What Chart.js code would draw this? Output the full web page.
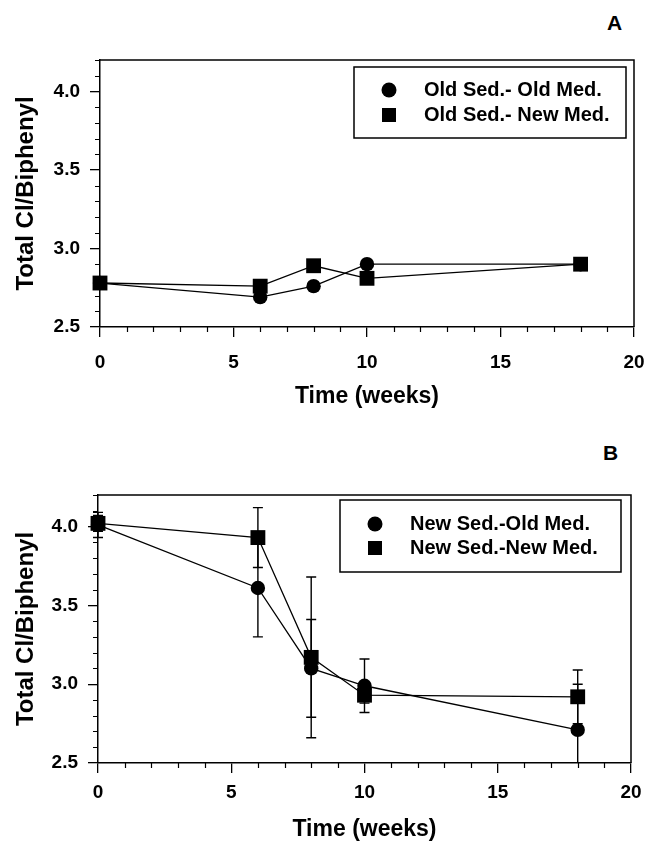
<!DOCTYPE html>
<html>
<head>
<meta charset="utf-8">
<script src="https://cdn.jsdelivr.net/npm/chart.js@4.4.0/dist/chart.umd.min.js"></script>
<style>
  body { margin: 0; background: #fff; }
  #wrap { position: relative; width: 645px; height: 844px; overflow: hidden; }
  canvas { position: absolute; left: 0; }
  .panel { position: absolute; font: bold 21px "Liberation Sans", Arial, sans-serif; line-height: 21px; color: #000; }
</style>
</head>
<body>
<div id="wrap">
  <div class="panel" style="left:607px; top:12px;">A</div>
  <canvas id="chartA" width="645" height="420" style="top:0;"></canvas>
  <div class="panel" style="left:603px; top:442px;">B</div>
  <canvas id="chartB" width="645" height="424" style="top:420px;"></canvas>
</div>
<script>
// data
var weeks = [0, 6, 8, 10, 18];
var oldSedOldMed = [2.78, 2.69, 2.76, 2.90, 2.90];
var oldSedNewMed = [2.78, 2.76, 2.89, 2.81, 2.90];
var newSedOldMed = [4.01, 3.61, 3.10, 2.99, 2.71];
var newSedOldMedErr = [0.08, 0.31, 0.31, 0.17, 0.29];
var newSedNewMed = [4.02, 3.93, 3.17, 2.93, 2.92];
var newSedNewMedErr = [0.05, 0.19, 0.51, 0.05, 0.17];
var yMin = 2.5, yMax = 4.2, yStep = 0.5, yMinor = 0.1;
var xMin = 0, xMax = 20, xStep = 5, xMinor = 1;

var FONT = '"Liberation Sans", Arial, sans-serif';

function points(ys) {
  return weeks.map(function (w, i) { return { x: w, y: ys[i] }; });
}

// error bars, drawn through the chart's own scales
var errorBars = {
  id: 'errorBars',
  beforeDatasetsDraw: function (chart) {
    var ctx = chart.ctx, a = chart.chartArea;
    var xs = chart.scales.x, ys = chart.scales.y;
    ctx.save();
    ctx.beginPath();
    ctx.rect(a.left - 10, a.top, a.right - a.left + 20, a.bottom - a.top);
    ctx.clip();
    ctx.strokeStyle = '#000';
    ctx.lineWidth = 1.4;
    chart.data.datasets.forEach(function (ds) {
      if (!ds.errors) return;
      ds.data.forEach(function (p, i) {
        var px = xs.getPixelForValue(p.x);
        var top = ys.getPixelForValue(p.y + ds.errors[i]);
        var bot = ys.getPixelForValue(p.y - ds.errors[i]);
        ctx.beginPath();
        ctx.moveTo(px, top); ctx.lineTo(px, bot);
        ctx.moveTo(px - 5, top); ctx.lineTo(px + 5, top);
        ctx.moveTo(px - 5, bot); ctx.lineTo(px + 5, bot);
        ctx.stroke();
      });
    });
    ctx.restore();
  }
};

// frame, minor ticks and the boxed legend
var boxLegend = {
  id: 'boxLegend',
  afterDraw: function (chart, args, o) {
    var ctx = chart.ctx, a = chart.chartArea;
    var xs = chart.scales.x, ys = chart.scales.y;
    ctx.save();
    ctx.strokeStyle = '#000';
    ctx.lineWidth = 1.5;
    ctx.beginPath();
    ctx.moveTo(a.left, a.top); ctx.lineTo(a.right, a.top); ctx.lineTo(a.right, a.bottom);
    ctx.stroke();

    ctx.lineWidth = 1.2;
    ctx.beginPath();
    for (var v = xMin; v <= xMax; v += xMinor) {
      if (v % xStep === 0) continue;
      var px = Math.round(xs.getPixelForValue(v)) + 0.5;
      ctx.moveTo(px, a.bottom); ctx.lineTo(px, a.bottom + 5);
    }
    for (var k = 0; yMin + k * yMinor <= yMax + 1e-9; k++) {
      var val = yMin + k * yMinor;
      if (Math.abs(val / yStep - Math.round(val / yStep)) < 1e-6) continue;
      var py = Math.round(ys.getPixelForValue(val)) + 0.5;
      ctx.moveTo(a.left - 5, py); ctx.lineTo(a.left, py);
    }
    ctx.stroke();

    ctx.lineWidth = 1.5;
    ctx.strokeRect(o.x, o.y, o.w, o.h);
    ctx.fillStyle = '#000';
    ctx.font = 'bold 20px ' + FONT;
    ctx.textBaseline = 'middle';
    chart.data.datasets.forEach(function (ds, i) {
      var cy = o.y + o.rows[i];
      var cx = o.x + o.markX;
      if (ds.pointStyle === 'rect') {
        ctx.fillRect(cx - 7, cy - 7, 14, 14);
      } else {
        ctx.beginPath();
        ctx.arc(cx, cy, 7.5, 0, Math.PI * 2);
        ctx.fill();
      }
      ctx.fillText(ds.label, o.x + o.textX, cy);
    });
    ctx.restore();
  }
};

function dataset(label, ys, style, errs) {
  return {
    label: label,
    data: points(ys),
    errors: errs,
    pointStyle: style,
    pointRadius: style === 'rect' ? 10.5 : 7.2,
    pointHoverRadius: style === 'rect' ? 10.5 : 7.2,
    pointBorderWidth: 0,
    pointBackgroundColor: '#000',
    borderColor: '#000',
    borderWidth: 1.3,
    tension: 0,
    clip: false
  };
}

function makeChart(id, datasets, lay) {
  return new Chart(document.getElementById(id), {
    type: 'line',
    data: { datasets: datasets },
    plugins: [errorBars, boxLegend],
    options: {
      responsive: false,
      animation: false,
      layout: { padding: { left: 0, top: lay.top, right: lay.right, bottom: 0 } },
      plugins: {
        legend: { display: false },
        tooltip: { enabled: false },
        boxLegend: lay.legend
      },
      scales: {
        x: {
          type: 'linear',
          min: xMin, max: xMax,
          afterFit: function (s) {
            s.height = lay.xHeight;
            s.paddingLeft = 0;
            s.paddingRight = 0;
          },
          border: { color: '#000', width: 1.5 },
          grid: { drawOnChartArea: false, color: '#000', tickLength: 10, lineWidth: 1.3 },
          ticks: {
            stepSize: xStep, includeBounds: false, autoSkip: false, maxRotation: 0,
            color: '#000', padding: lay.xPad,
            font: { family: FONT, size: 19, weight: 'bold' }
          },
          title: {
            display: true, text: 'Time (weeks)', color: '#000', padding: lay.titlePad,
            font: { family: FONT, size: 23, weight: 'bold', lineHeight: 1 }
          }
        },
        y: {
          min: yMin, max: yMax,
          afterFit: function (s) {
            s.width = lay.left;
            s.paddingTop = 0;
            s.paddingBottom = 0;
          },
          border: { color: '#000', width: 1.5 },
          grid: { drawOnChartArea: false, color: '#000', tickLength: 10, lineWidth: 1.3 },
          ticks: {
            stepSize: yStep, includeBounds: false, autoSkip: false, color: '#000', padding: 10,
            font: { family: FONT, size: 19, weight: 'bold' },
            callback: function (v) { return v.toFixed(1); }
          },
          title: {
            display: true, text: 'Total Cl/Biphenyl', color: '#000', padding: 14,
            font: { family: FONT, size: 24, weight: 'bold', lineHeight: 1 }
          }
        }
      }
    }
  });
}

makeChart('chartA', [
  dataset('Old Sed.- Old Med.', oldSedOldMed, 'circle'),
  dataset('Old Sed.- New Med.', oldSedNewMed, 'rect')
], {
  top: 60, left: 100, right: 11, xHeight: 93, xPad: 14, titlePad: 11.5,
  legend: { x: 354, y: 67, w: 272, h: 71, markX: 35, textX: 70, rows: [23, 48] }
});

makeChart('chartB', [
  dataset('New Sed.-Old Med.', newSedOldMed, 'circle', newSedOldMedErr),
  dataset('New Sed.-New Med.', newSedNewMed, 'rect', newSedNewMedErr)
], {
  top: 75, left: 98, right: 14, xHeight: 81, xPad: 8, titlePad: 2.5,
  legend: { x: 340, y: 80, w: 281, h: 72, markX: 35, textX: 70, rows: [24, 48] }
});
</script>
</body>
</html>
